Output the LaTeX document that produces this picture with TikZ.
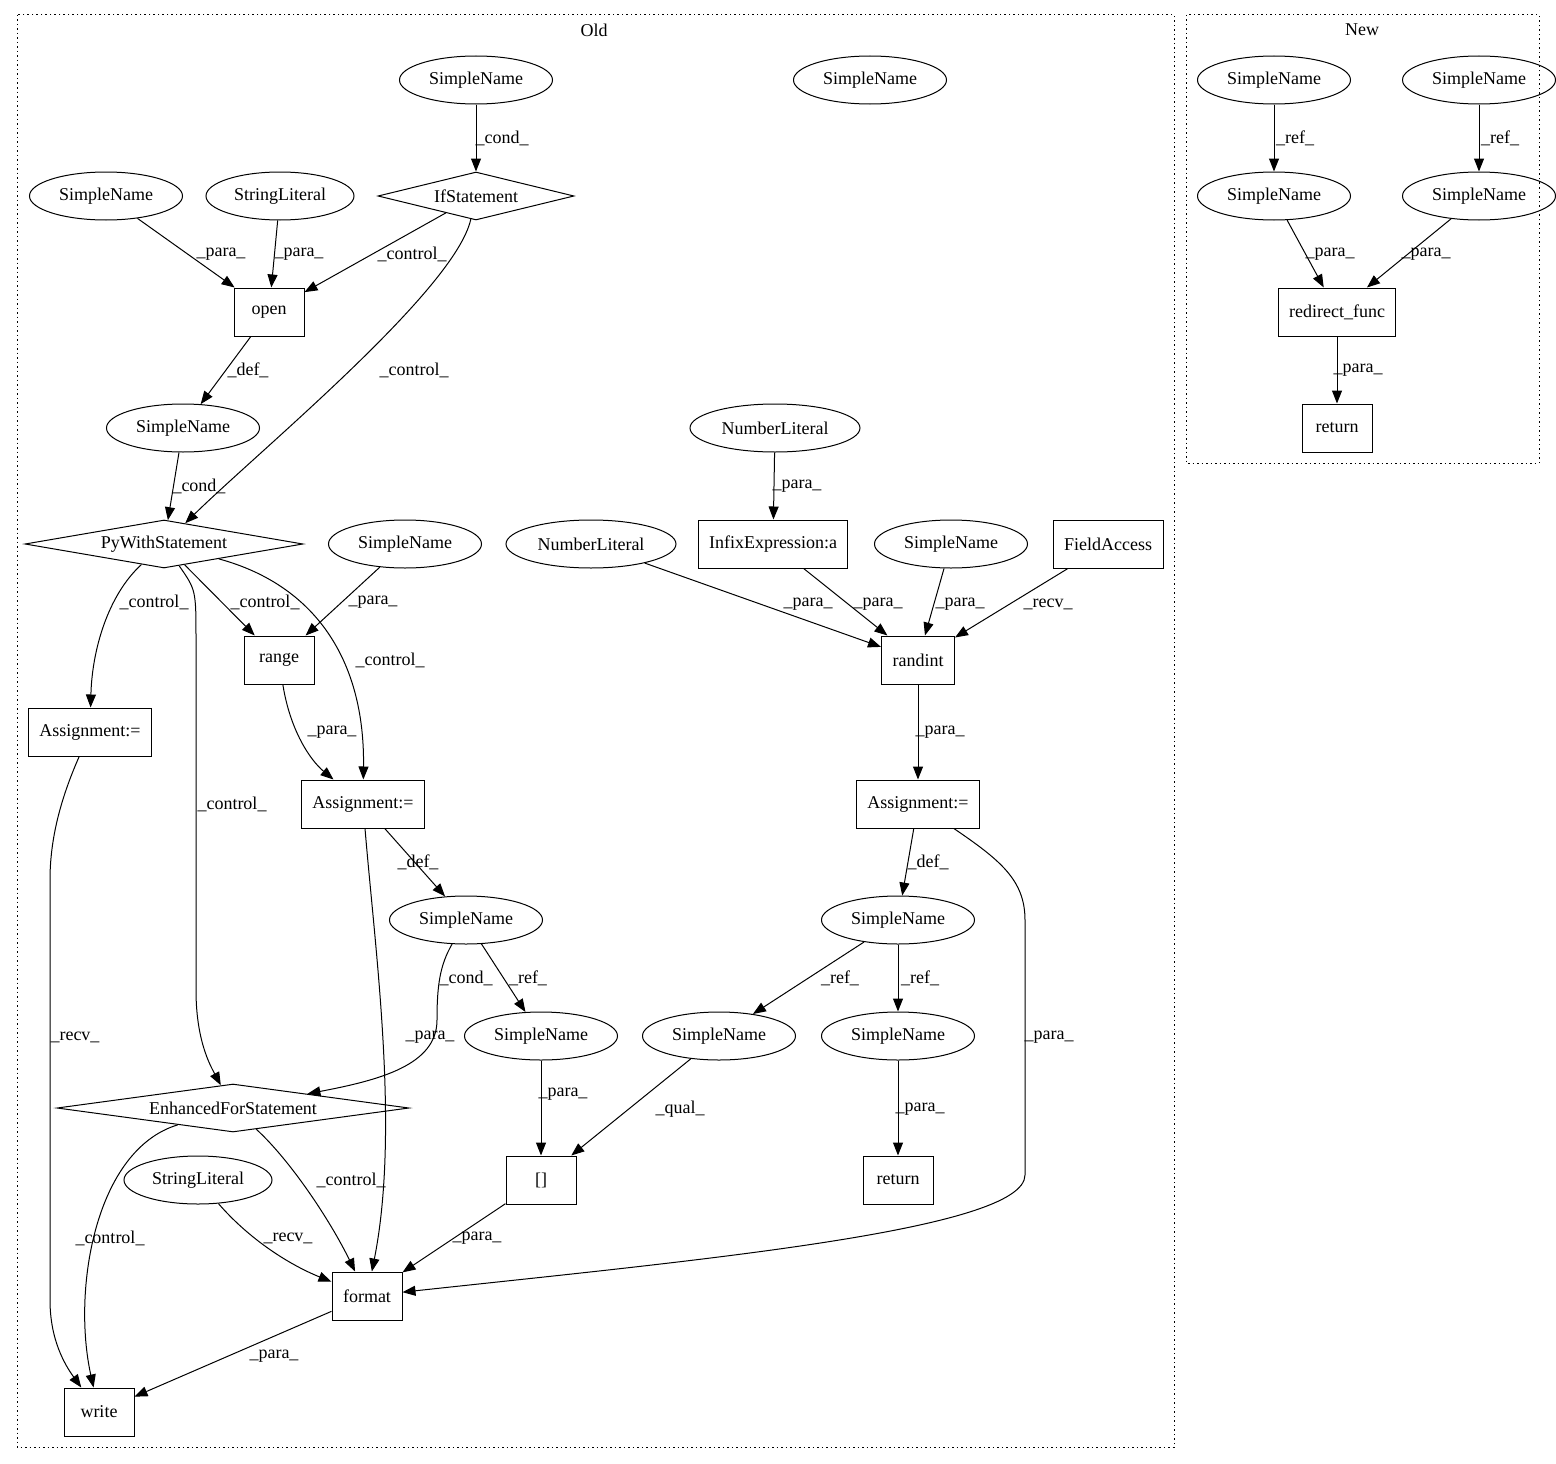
\documentclass[tikz,border=0pt]{standalone}
\usepackage{fontspec}
\setmainfont{Liberation Serif}
\usetikzlibrary{shapes.geometric,arrows.meta}
\begin{document}
\begin{tikzpicture}[x=1pt,y=-1pt,
  every node/.style={font=\fontsize{18}{20}\selectfont},
  sn/.style={ellipse,draw,line width=1pt,inner sep=1pt,minimum width=153pt,minimum height=48pt},
  slit/.style={ellipse,draw,line width=1pt,inner sep=1pt,minimum width=148pt,minimum height=48pt},
  nlit/.style={ellipse,draw,line width=1pt,inner sep=1pt,minimum width=170pt,minimum height=48pt},
  box/.style={rectangle,draw,line width=1pt,inner xsep=11pt,inner ysep=0pt,minimum width=70pt,minimum height=48pt},
  dia/.style={diamond,draw,line width=1pt,inner sep=0pt,minimum height=48pt},
  lab/.style={inner sep=0pt},
  edge/.style={draw,line width=1pt,-{Triangle[length=13pt,width=10pt]}},
  cluster/.style={draw,line width=1pt,dash pattern=on 1.5pt off 3pt}]
\useasboundingbox (0,0) rectangle (1556,1464);
\draw[cluster] (17,15) rectangle (1174,1447);
\draw[cluster] (1186,15) rectangle (1539,463);
\node[lab] (oldlab) at (594,30) {Old};
\node[lab] (newlab) at (1362,30) {New};
% Old nodes
\node[sn] (osn1) at (476,80) {SimpleName};
\node[sn] (osn2) at (870,80) {SimpleName};
\node[dia,aspect=4.5,minimum width=196pt] (oif) at (476,196) {IfStatement};
\node[sn] (osn3) at (106,196) {SimpleName};
\node[slit] (osl1) at (280,196) {StringLiteral};
\node[box] (oopen) at (269,312) {open};
\node[sn] (osn4) at (183,428) {SimpleName};
\node[dia,aspect=6,minimum width=278pt] (opyw) at (164,544) {PyWithStatement};
\node[sn] (osn5) at (405,544) {SimpleName};
\node[box] (orange) at (279,660) {range};
\node[box] (oasl) at (90,732) {Assignment:=};
\node[box] (oasm) at (363,804) {Assignment:=};
\node[sn] (osn6) at (466,920) {SimpleName};
\node[sn] (osn7) at (541,1036) {SimpleName};
\node[dia,aspect=8,minimum width=352pt] (oenh) at (233,1108) {EnhancedForStatement};
\node[slit] (osl2) at (198,1180) {StringLiteral};
\node[box] (oidx) at (541,1180) {[]};
\node[box] (oformat) at (367,1296) {format};
\node[box] (owrite) at (99,1412) {write};
\node[nlit] (onl1) at (775,428) {NumberLiteral};
\node[box] (oinfix) at (773,544) {InfixExpression:a};
\node[nlit] (onl2) at (591,544) {NumberLiteral};
\node[sn] (osn8) at (951,544) {SimpleName};
\node[box] (ofa) at (1108,544) {FieldAccess};
\node[box] (orandint) at (918,660) {randint};
\node[box] (oasr) at (918,804) {Assignment:=};
\node[sn] (osn9) at (898,920) {SimpleName};
\node[sn] (osn10) at (719,1036) {SimpleName};
\node[sn] (osn11) at (898,1036) {SimpleName};
\node[box] (oret) at (898,1180) {return};
% New nodes
\node[sn] (nsn1) at (1274,80) {SimpleName};
\node[sn] (nsn2) at (1479,80) {SimpleName};
\node[sn] (nsn3) at (1274,196) {SimpleName};
\node[sn] (nsn4) at (1479,196) {SimpleName};
\node[box] (nrf) at (1337,312) {redirect\_func};
\node[box] (nret) at (1337,428) {return};
% Old edges
\draw[edge] (osn1) -- (oif);
\node[lab] at (502,138) {\_cond\_};
\draw[edge] (osn3) -- (oopen);
\node[lab] at (221,254) {\_para\_};
\draw[edge] (osl1) -- (oopen);
\node[lab] at (299,254) {\_para\_};
\draw[edge] (oif) -- (oopen);
\node[lab] at (412,254) {\_control\_};
\draw[edge] (oif) .. controls (455,290) and (260,450) .. (opyw);
\node[lab] at (414,370) {\_control\_};
\draw[edge] (oopen) -- (osn4);
\node[lab] at (248,370) {\_def\_};
\draw[edge] (osn4) -- (opyw);
\node[lab] at (199,486) {\_cond\_};
\draw[edge] (opyw) .. controls (108,595) and (92,650) .. (oasl);
\node[lab] at (154,602) {\_control\_};
\draw[edge] (opyw) -- (orange);
\node[lab] at (265,602) {\_control\_};
\draw[edge] (osn5) -- (orange);
\node[lab] at (373,602) {\_para\_};
\draw[edge] (opyw) .. controls (315,585) and (365,660) .. (oasm);
\node[lab] at (390,660) {\_control\_};
\draw[edge] (opyw) .. controls (196,590) .. (196,640) -- (196,990) .. controls (196,1040) and (210,1065) .. (oenh);
\node[lab] at (232,804) {\_control\_};
\draw[edge] (orange) .. controls (290,730) and (310,760) .. (oasm);
\node[lab] at (332,732) {\_para\_};
\draw[edge] (oasl) .. controls (60,800) and (50,840) .. (50,880) -- (50,1300) .. controls (50,1340) and (65,1365) .. (owrite);
\node[lab] at (75,1037) {\_recv\_};
\draw[edge] (oasm) .. controls (375,950) and (400,1130) .. (oformat);
\node[lab] at (430,1037) {\_para\_};
\draw[edge] (oasm) -- (osn6);
\node[lab] at (418,862) {\_def\_};
\draw[edge] (osn6) .. controls (440,965) and (437,985) .. (437,1020) .. controls (437,1065) and (380,1080) .. (oenh);
\node[lab] at (466,978) {\_cond\_};
\draw[edge] (osn6) -- (osn7);
\node[lab] at (528,978) {\_ref\_};
\draw[edge] (osn7) -- (oidx);
\node[lab] at (563,1094) {\_para\_};
\draw[edge] (osn10) -- (oidx);
\node[lab] at (680,1109) {\_qual\_};
\draw[edge] (oenh) .. controls (95,1150) and (72,1290) .. (owrite);
\node[lab] at (110,1238) {\_control\_};
\draw[edge] (oenh) .. controls (290,1160) and (330,1220) .. (oformat);
\node[lab] at (351,1180) {\_control\_};
\draw[edge] (osl2) .. controls (250,1240) and (290,1265) .. (oformat);
\node[lab] at (288,1238) {\_recv\_};
\draw[edge] (oidx) -- (oformat);
\node[lab] at (477,1238) {\_para\_};
\draw[edge] (oformat) -- (owrite);
\node[lab] at (274,1356) {\_para\_};
\draw[edge] (onl1) -- (oinfix);
\node[lab] at (797,486) {\_para\_};
\draw[edge] (onl2) -- (orandint);
\node[lab] at (808,604) {\_para\_};
\draw[edge] (oinfix) -- (orandint);
\node[lab] at (878,604) {\_para\_};
\draw[edge] (osn8) -- (orandint);
\node[lab] at (960,604) {\_para\_};
\draw[edge] (ofa) -- (orandint);
\node[lab] at (1048,604) {\_recv\_};
\draw[edge] (orandint) -- (oasr);
\node[lab] at (940,732) {\_para\_};
\draw[edge] (oasr) -- (osn9);
\node[lab] at (928,862) {\_def\_};
\draw[edge] (oasr) .. controls (1000,860) and (1025,880) .. (1025,920) -- (1025,1175) .. controls (1025,1230) and (700,1260) .. (oformat);
\node[lab] at (1049,1037) {\_para\_};
\draw[edge] (osn9) -- (osn10);
\node[lab] at (840,978) {\_ref\_};
\draw[edge] (osn9) -- (osn11);
\node[lab] at (920,978) {\_ref\_};
\draw[edge] (osn11) -- (oret);
\node[lab] at (920,1109) {\_para\_};
% New edges
\draw[edge] (nsn1) -- (nsn3);
\node[lab] at (1295,138) {\_ref\_};
\draw[edge] (nsn2) -- (nsn4);
\node[lab] at (1500,138) {\_ref\_};
\draw[edge] (nsn3) -- (nrf);
\node[lab] at (1330,254) {\_para\_};
\draw[edge] (nsn4) -- (nrf);
\node[lab] at (1426,254) {\_para\_};
\draw[edge] (nrf) -- (nret);
\node[lab] at (1358,370) {\_para\_};
\end{tikzpicture}
\end{document}
